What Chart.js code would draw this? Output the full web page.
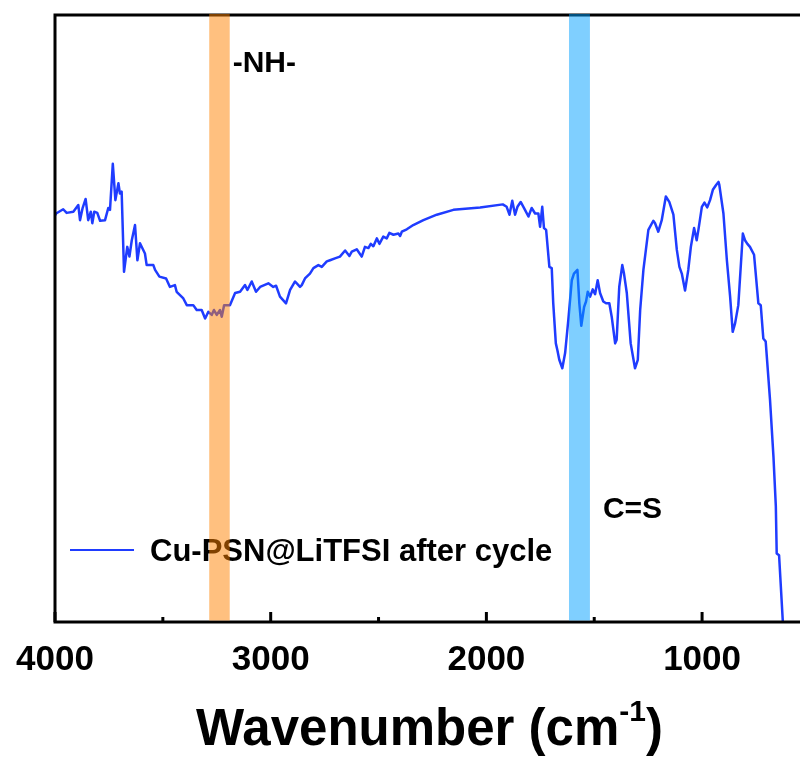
<!DOCTYPE html>
<html>
<head>
<meta charset="utf-8">
<script src="https://cdn.jsdelivr.net/npm/chart.js@4.4.0/dist/chart.umd.min.js"></script>
<style>
  html, body { margin: 0; padding: 0; background: #fff; overflow: hidden; }
  #wrap { width: 800px; height: 761px; }
</style>
</head>
<body>
<div id="wrap"><canvas id="ftirChart" width="800" height="761"></canvas></div>
<script>
// spectrum (cm-1, arbitrary transmittance)
var wavenumber = [
    4000, 3995, 3962, 3946, 3915, 3892, 3884, 3872, 3858, 3846,
    3834, 3827, 3818, 3804, 3791, 3768, 3753, 3745, 3732, 3720,
    3706, 3699, 3691, 3680, 3665, 3655, 3644, 3629, 3618, 3606,
    3583, 3575, 3544, 3536, 3516, 3485, 3467, 3444, 3436, 3405,
    3389, 3359, 3343, 3320, 3304, 3289, 3273, 3263, 3250, 3235,
    3227, 3216, 3189, 3165, 3142, 3119, 3108, 3088, 3068, 3049,
    3011, 2988, 2975, 2957, 2929, 2910, 2887, 2864, 2856, 2841,
    2818, 2802, 2779, 2763, 2740, 2725, 2702, 2679, 2655, 2635,
    2624, 2601, 2578, 2563, 2547, 2536, 2524, 2508, 2496, 2478,
    2462, 2450, 2431, 2408, 2400, 2392, 2369, 2339, 2292, 2230,
    2153, 2029, 1924, 1906, 1893, 1880, 1867, 1856, 1841, 1821,
    1805, 1790, 1774, 1759, 1751, 1741, 1733, 1723, 1708, 1697,
    1690, 1678, 1671, 1662, 1648, 1635, 1620, 1604, 1594, 1578,
    1569, 1560, 1547, 1538, 1530, 1519, 1507, 1496, 1484, 1473,
    1458, 1445, 1430, 1419, 1403, 1396, 1384, 1370, 1362, 1349,
    1331, 1311, 1298, 1287, 1272, 1249, 1226, 1218, 1203, 1187,
    1168, 1152, 1133, 1117, 1105, 1094, 1079, 1064, 1052, 1037,
    1025, 1017, 1001, 989, 976, 963, 950, 935, 924, 920,
    901, 885, 870, 858, 847, 832, 811, 801, 790, 778,
    759, 739, 728, 716, 705, 685, 669, 658, 654, 643,
    626, 622
];
var transmittance = [
    67.0, 67.3, 68.0, 67.4, 67.6, 68.7, 66.2, 68.2, 69.7, 66.2,
    67.6, 65.7, 67.6, 67.4, 66.1, 66.2, 68.2, 67.9, 75.5, 69.5,
    72.3, 70.6, 70.9, 57.7, 61.8, 60.2, 62.9, 65.4, 59.6, 62.4,
    60.7, 58.8, 58.8, 58.0, 56.9, 56.6, 55.2, 55.5, 54.4, 53.3,
    52.2, 52.2, 51.4, 51.4, 50.0, 51.1, 50.6, 51.4, 50.6, 51.4,
    50.3, 52.2, 52.2, 54.2, 54.4, 55.5, 54.7, 56.1, 54.4, 55.2,
    55.8, 55.2, 55.4, 53.6, 52.5, 54.7, 56.1, 55.2, 55.5, 56.6,
    57.4, 58.3, 58.8, 58.5, 59.4, 59.6, 59.9, 60.2, 61.2, 60.3,
    61.0, 61.4, 60.2, 61.8, 61.6, 62.3, 61.9, 63.2, 62.3, 63.5,
    63.2, 64.1, 63.8, 64.0, 63.6, 64.3, 64.7, 65.4, 66.2, 67.1,
    67.9, 68.3, 68.8, 68.4, 67.1, 69.4, 67.1, 68.4, 69.2, 67.9,
    66.8, 68.2, 67.3, 67.3, 65.1, 68.4, 64.9, 64.6, 58.5, 58.3,
    52.5, 45.9, 44.8, 43.2, 41.8, 44.3, 49.8, 56.3, 57.4, 58.0,
    52.5, 48.8, 51.9, 52.8, 54.4, 53.6, 54.8, 54.0, 56.3, 54.2,
    52.8, 52.5, 52.5, 50.3, 45.9, 46.5, 55.2, 58.8, 57.4, 54.2,
    45.9, 41.8, 43.2, 51.4, 58.0, 64.6, 66.1, 65.7, 64.3, 66.2,
    70.1, 69.2, 67.1, 61.3, 58.5, 57.4, 54.6, 58.0, 61.8, 64.9,
    62.9, 64.6, 68.4, 69.1, 68.3, 69.5, 71.2, 72.0, 72.5, 72.0,
    67.3, 59.6, 53.6, 47.8, 49.2, 52.2, 64.0, 62.9, 62.3, 61.8,
    60.5, 52.5, 52.2, 46.7, 46.2, 36.6, 27.2, 19.0, 11.3, 11.0,
    0.3, -2.1
];
var seriesLabel = 'Cu-PSN@LiTFSI after cycle';
var majorTicks = [4000, 3000, 2000, 1000];
var bandNH = [3190, 3285];
var bandCS = [1520, 1617];

var FONT = '"Liberation Sans", Arial, Helvetica, sans-serif';
var lineColor = '#1f3cff';

var spectrum = wavenumber.map(function (w, i) {
    return { x: w, y: transmittance[i] };
});

// frame, inward ticks, legend, bands, labels and axis title
var decorPlugin = {
    id: 'decor',
    afterDatasetsDraw: function (chart) {
        var ctx = chart.ctx;
        var a = chart.chartArea;
        var xs = chart.scales.x;
        ctx.save();

        // frame
        ctx.strokeStyle = '#000';
        ctx.lineWidth = 3;
        ctx.beginPath();
        ctx.moveTo(a.right + 2, a.top);
        ctx.lineTo(a.left, a.top);
        ctx.lineTo(a.left, a.bottom);
        ctx.lineTo(a.right + 2, a.bottom);
        ctx.stroke();

        // ticks pointing into the plot
        xs.ticks.forEach(function (t) {
            var px = xs.getPixelForValue(t.value);
            var len = majorTicks.indexOf(t.value) >= 0 ? 10 : 5;
            ctx.beginPath();
            ctx.moveTo(px, a.bottom);
            ctx.lineTo(px, a.bottom - len);
            ctx.stroke();
        });

        // legend
        ctx.strokeStyle = lineColor;
        ctx.lineWidth = 2;
        ctx.beginPath();
        ctx.moveTo(70, 550);
        ctx.lineTo(134, 550);
        ctx.stroke();
        ctx.fillStyle = '#000';
        ctx.font = 'bold 31px ' + FONT;
        ctx.textBaseline = 'alphabetic';
        ctx.textAlign = 'left';
        ctx.fillText(seriesLabel, 150, 561);

        // highlighted bands
        function band(range, color) {
            var x1 = xs.getPixelForValue(range[1]);
            var x2 = xs.getPixelForValue(range[0]);
            ctx.fillStyle = color;
            ctx.fillRect(x1, a.top - 1, x2 - x1, a.bottom - a.top - 0.5);
        }
        band(bandNH, 'rgba(255, 130, 0, 0.5)');
        band(bandCS, 'rgba(0, 160, 255, 0.5)');

        // band labels
        ctx.fillStyle = '#000';
        ctx.font = 'bold 30px ' + FONT;
        ctx.fillText('-NH-', xs.getPixelForValue(bandNH[0]) + 3, 72);
        ctx.fillText('C=S', xs.getPixelForValue(bandCS[0]) + 13, 518);

        // axis title with superscript
        var big = 'bold 51px ' + FONT;
        var small = 'bold 30px ' + FONT;
        var t1 = 'Wavenumber (cm', t2 = '-1', t3 = ')';
        ctx.font = big;
        var w1 = ctx.measureText(t1).width, w3 = ctx.measureText(t3).width;
        ctx.font = small;
        var w2 = ctx.measureText(t2).width;
        var x0 = (a.left + a.right) / 2 + 2 - (w1 + w2 + w3) / 2;
        ctx.font = big;
        ctx.fillText(t1, x0, 745);
        ctx.font = small;
        ctx.fillText(t2, x0 + w1, 721);
        ctx.font = big;
        ctx.fillText(t3, x0 + w1 + w2, 745);

        ctx.restore();
    }
};

var ctx = document.getElementById('ftirChart').getContext('2d');
var ftirChart = new Chart(ctx, {
    type: 'line',
    data: {
        datasets: [{
            label: seriesLabel,
            data: spectrum,
            borderColor: lineColor,
            backgroundColor: lineColor,
            borderWidth: 2.5,
            borderJoinStyle: 'round',
            pointRadius: 0,
            tension: 0,
            fill: false
        }]
    },
    options: {
        responsive: false,
        animation: false,
        layout: { padding: { top: 15, left: 55, right: 0, bottom: 0 } },
        plugins: {
            legend: { display: false },
            tooltip: { enabled: false }
        },
        scales: {
            x: {
                type: 'linear',
                reverse: true,
                min: 546,
                max: 4000,
                grid: { display: false },
                border: { display: false },
                afterBuildTicks: function (scale) {
                    scale.ticks = [];
                    for (var v = 1000; v <= 4000; v += 500) scale.ticks.push({ value: v });
                },
                afterFit: function (scale) { scale.height = 139; },
                ticks: {
                    autoSkip: false,
                    maxRotation: 0,
                    padding: 9,
                    color: '#000',
                    font: { family: FONT, size: 35, weight: 'bold' },
                    callback: function (value) {
                        return majorTicks.indexOf(value) >= 0 ? String(value) : '';
                    }
                }
            },
            y: {
                display: false,
                min: 0,
                max: 100
            }
        }
    },
    plugins: [decorPlugin]
});
</script>
</body>
</html>
